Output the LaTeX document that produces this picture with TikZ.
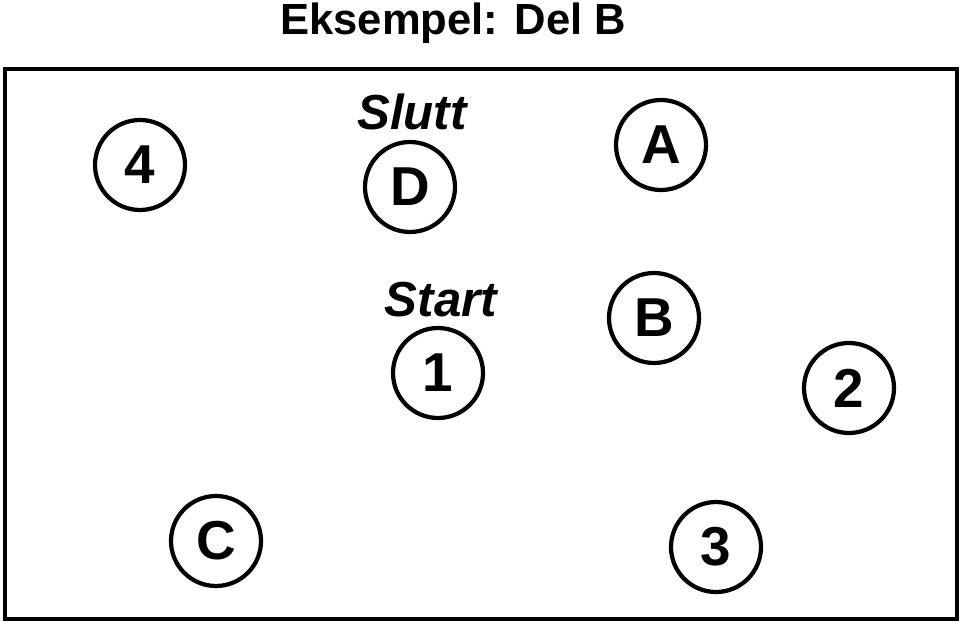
\documentclass[tikz,border=0pt]{standalone}
\usepackage{fontspec}
\setmainfont{Liberation Sans}
\usepackage{tikz}
\usetikzlibrary{positioning}

\begin{document}
\begin{tikzpicture}[
  post/.style={draw, circle, line width=3pt, minimum size=2.25cm, inner sep=0pt,
               font=\fontsize{39}{39}\selectfont\bfseries},
  tag/.style={font=\fontsize{35}{35}\selectfont\bfseries\itshape},
  frame/.style={draw, line width=2.2pt}
]
\useasboundingbox (0,0) rectangle (24,15.525);

% Title
\node[font=\fontsize{31}{31}\selectfont\bfseries, anchor=base] (title) at (11.33,14.67) {Eksempel: Del B};

% Area border
\node[frame, minimum width=23.8cm, minimum height=13.75cm, inner sep=0pt] (area) at (12.025,6.925) {};

% Posts
\node[post] (p4) at (3.5,11.4)    {4};
\node[post] (pD) at (10.25,10.85) {D};
\node[post] (pA) at (16.525,11.9) {A};
\node[post] (p1) at (10.95,6.2)   {1};
\node[post] (pB) at (16.35,7.575) {B};
\node[post] (p2) at (21.225,5.825){2};
\node[post] (pC) at (5.4,2.0)     {C};
\node[post] (p3) at (17.9,1.85)   {3};

% Start and finish labels
\node[tag] (slutt) at (10.3,12.725)  {Slutt};
\node[tag] (start) at (11.025,8.025) {Start};
\end{tikzpicture}
\end{document}
